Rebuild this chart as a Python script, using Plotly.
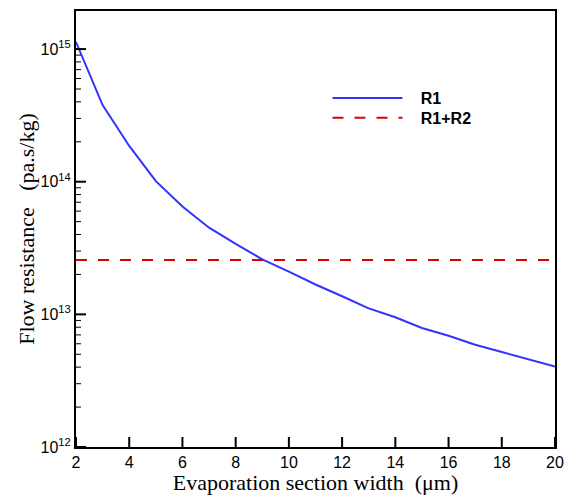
import plotly.graph_objects as go

# Data
width_um = [2, 3, 4, 5, 6, 7, 8, 9, 10, 11, 12, 13, 14, 15, 16, 17, 18, 19, 20]
r1 = [1.13e15, 3.78e14, 1.86e14, 1.01e14, 6.5e13, 4.5e13, 3.4e13, 2.6e13, 2.1e13,
      1.68e13, 1.37e13, 1.11e13, 9.5e12, 7.9e12, 6.9e12, 5.9e12, 5.2e12, 4.6e12, 4.05e12]
r1r2_value = 2.57e13
r1r2 = [r1r2_value] * len(width_um)

x_ticks = [2, 4, 6, 8, 10, 12, 14, 16, 18, 20]
y_major = [1e12, 1e13, 1e14, 1e15]
y_major_text = ["10<sup>12</sup>", "10<sup>13</sup>", "10<sup>14</sup>", "10<sup>15</sup>"]
y_minor = [m * 10 ** e for e in (12, 13, 14, 15) for m in range(2, 10) if m * 10 ** e < 10 ** 15.28]

xrange_ = [2, 20]
yrange = [12, 15.287]
plot_w, plot_h = 569 - 76 - 14, 495 - 11 - 48

pad = "\u00a0\u00a0\u00a0"
fig = go.Figure()
fig.add_trace(go.Scatter(x=width_um, y=r1, mode="lines", name=pad + "R1", legend="legend",
                         line=dict(color="#3333ff", width=2)))
fig.add_trace(go.Scatter(x=width_um, y=r1r2, mode="lines", name=pad + "R1+R2", legend="legend2",
                         line=dict(color="#dd0000", width=2, dash="11px,11px")))

# inward tick marks, derived from the tick arrays (length given in pixels)
def px_to_dx(px):
    return px * (xrange_[1] - xrange_[0]) / plot_w

def px_to_yfac(px):
    return 10 ** (px * (yrange[1] - yrange[0]) / plot_h)

tx, ty = [], []
for t in x_ticks:
    tx += [t, t, None]
    ty += [10 ** yrange[0], 10 ** yrange[0] * px_to_yfac(10), None]
for t in y_major:
    tx += [xrange_[0], xrange_[0] + px_to_dx(10), None]
    ty += [t, t, None]
fig.add_trace(go.Scatter(x=tx, y=ty, mode="lines", showlegend=False, hoverinfo="skip",
                         line=dict(color="black", width=2)))
mx, my = [], []
for t in y_minor:
    mx += [xrange_[0], xrange_[0] + px_to_dx(5), None]
    my += [t, t, None]
fig.add_trace(go.Scatter(x=mx, y=my, mode="lines", showlegend=False, hoverinfo="skip",
                         line=dict(color="black", width=1)))

legend_font = dict(family="Liberation Sans", size=16, color="black", weight="bold")
fig.update_layout(
    width=569, height=495,
    margin=dict(l=76, r=14, t=11, b=48),
    paper_bgcolor="white", plot_bgcolor="white",
    showlegend=True,
    legend=dict(x=0.525, y=0.839, xanchor="left", yanchor="top",
                bgcolor="rgba(0,0,0,0)", font=legend_font, itemwidth=70),
    legend2=dict(x=0.525, y=0.794, xanchor="left", yanchor="top",
                 bgcolor="rgba(0,0,0,0)", font=legend_font, itemwidth=70),
    xaxis=dict(range=xrange_, tickmode="array", tickvals=x_ticks, ticks="",
               showline=True, linecolor="black", linewidth=2, mirror=True,
               showgrid=False, zeroline=False, automargin=False,
               tickfont=dict(family="Liberation Sans", size=16, color="black"),
               title=dict(text="Evaporation section width  (\u03bcm)", standoff=2,
                          font=dict(family="Liberation Serif", size=22, color="black"))),
    yaxis=dict(type="log", range=yrange, tickmode="array", tickvals=y_major,
               ticktext=y_major_text, ticks="",
               showline=True, linecolor="black", linewidth=2, mirror=True,
               showgrid=False, zeroline=False, automargin=False,
               tickfont=dict(family="Liberation Sans", size=16, color="black"),
               title=dict(text="Flow resistance   (pa.s/kg)", standoff=0,
                          font=dict(family="Liberation Serif", size=22, color="black"))),
)

fig.write_html("out.html")
